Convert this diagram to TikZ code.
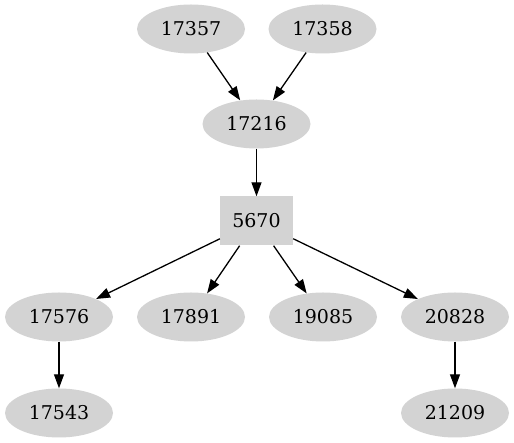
\documentclass[tikz,border=0pt]{standalone}
\usepackage{fontspec}
\setmainfont{DejaVu Serif}
\usetikzlibrary{shapes.geometric,arrows.meta}
\definecolor{nodegray}{RGB}{211,211,211}
\tikzset{
  x=1pt,y=1pt,
  ell/.style={ellipse,fill=nodegray,draw=none,minimum width=108pt,minimum height=49pt,inner sep=0pt,font=\fontsize{19}{22}\selectfont},
  boxnode/.style={rectangle,fill=nodegray,draw=none,minimum width=73pt,minimum height=49pt,inner sep=0pt,font=\fontsize{19}{22}\selectfont},
  edge/.style={draw=black,line width=1.3pt,-{Triangle[length=14pt,width=10pt]}}
}
\begin{document}
\begin{tikzpicture}
\useasboundingbox (0,0) rectangle (514,443);
\node[ell] (a) at (191,414) {17357};
\node[ell] (b) at (322.5,414) {17358};
\node[ell] (c) at (256.5,319) {17216};
\node[boxnode] (d) at (256.5,222) {5670};
\node[ell] (e) at (59,126) {17576};
\node[ell] (f) at (191,126) {17891};
\node[ell] (g) at (323,126) {19085};
\node[ell] (h) at (455,126) {20828};
\node[ell] (i) at (59,30) {17543};
\node[ell] (j) at (455,30) {21209};
\draw[edge] (a) -- (c);
\draw[edge] (b) -- (c);
\draw[edge] (c) -- (d);
\draw[edge] (d) -- (e);
\draw[edge] (d) -- (f);
\draw[edge] (d) -- (g);
\draw[edge] (d) -- (h);
\draw[edge] (e) -- (i);
\draw[edge] (h) -- (j);
\end{tikzpicture}
\end{document}
